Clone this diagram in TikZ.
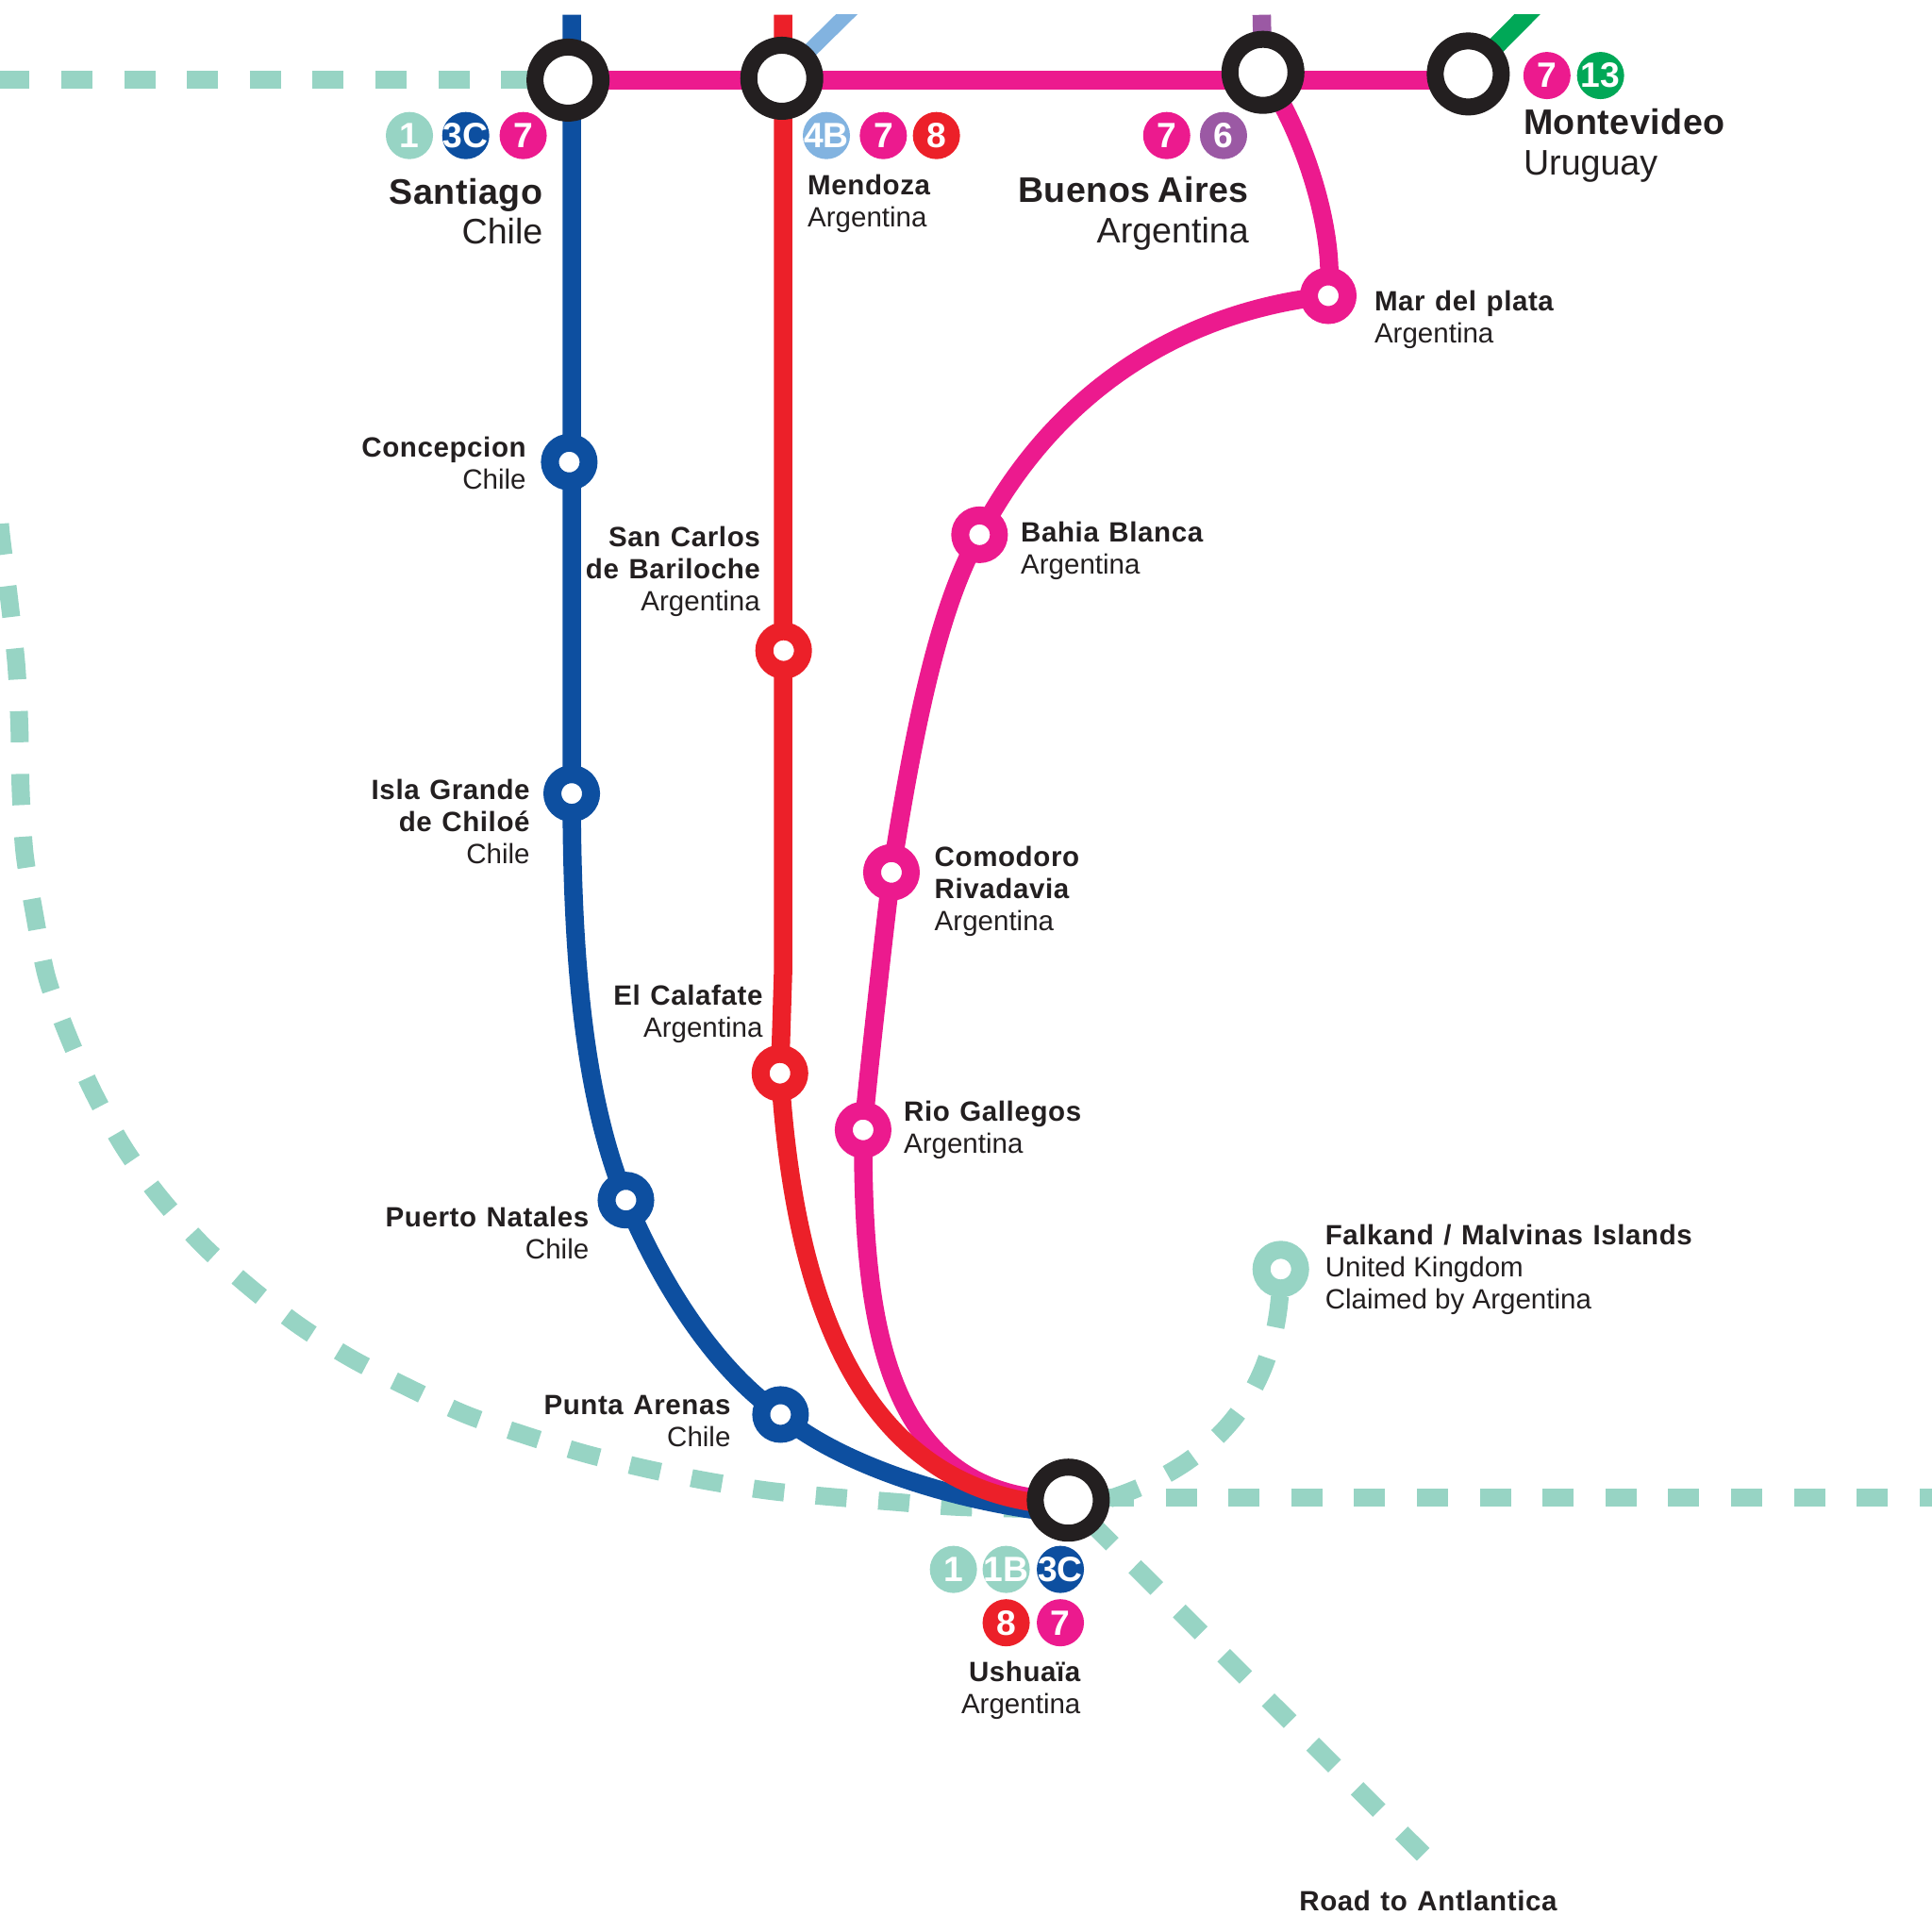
\documentclass[tikz,border=0pt]{standalone}
\usepackage{fontspec}
\usepackage{tikz}
\usetikzlibrary{backgrounds}
\setmainfont{Liberation Sans}
\newfontfamily\namefont[LetterSpace=2,WordSpace=1.2]{Liberation Sans}
\newfontfamily\bignamefont[LetterSpace=1.4,WordSpace=0.7]{Liberation Sans}

\definecolor{roadteal}{HTML}{97D4C4}
\definecolor{linepink}{HTML}{EC1A8E}
\definecolor{lineblue}{HTML}{0D4FA0}
\definecolor{linered}{HTML}{EC2029}
\definecolor{linesky}{HTML}{82B3E0}
\definecolor{linepurple}{HTML}{9B59A4}
\definecolor{linegreen}{HTML}{00A857}
\definecolor{ringblack}{HTML}{231F20}

\newcommand{\cityname}[1]{{\namefont\bfseries #1}}
\newcommand{\bigname}[1]{{\bignamefont\bfseries #1}}
\newcommand{\wide}[1]{\makebox[0pt][c]{#1}}

\tikzset{
    hub/.style={circle, draw=ringblack, fill=white, line width=0.18cm, minimum size=0.7cm, inner sep=0},
    halt/.style={circle, fill=white, line width=0.19cm, minimum size=0.41cm, inner sep=0},
    badge/.style={circle, text=white, minimum size=0.5cm, inner sep=0, font=\fontsize{10.6}{10.6}\selectfont\bfseries},
    metro/.style={line width=0.195cm},
    road/.style={line width=0.19cm, color=roadteal, dash pattern=on 0.33cm off 0.336cm},
    small/.style={inner sep=0, text=ringblack, font=\fontsize{8.4}{9.67}\selectfont},
    big/.style={inner sep=0, text=ringblack, font=\fontsize{10.7}{12.2}\selectfont},
}

\begin{document}
\begin{tikzpicture}[x=0.0130612cm, y=-0.0130612cm]
    \useasboundingbox (0,0) rectangle (1568,1568);

    % stations
    \node[hub] (santiago) at (461,65) {};
    \node[hub] (mendoza) at (634.5,63.5) {};
    \node[hub] (buenosaires) at (1025,58.7) {};
    \node[hub] (montevideo) at (1191.6,60) {};
    \node[hub] (ushuaia) at (867,1217.5) {};

    \node[halt, draw=lineblue] (concepcion) at (462,375) {};
    \node[halt, draw=lineblue] (chiloe) at (464,644) {};
    \node[halt, draw=lineblue] (natales) at (508,974) {};
    \node[halt, draw=lineblue] (arenas) at (633.5,1148) {};
    \node[halt, draw=linered] (bariloche) at (636,528) {};
    \node[halt, draw=linered] (calafate) at (633,871) {};
    \node[halt, draw=linepink] (marplata) at (1078,240) {};
    \node[halt, draw=linepink] (bahia) at (795,434) {};
    \node[halt, draw=linepink] (comodoro) at (723.5,708) {};
    \node[halt, draw=linepink] (gallegos) at (700.5,917) {};
    \node[halt, draw=roadteal] (falkland) at (1039.5,1030) {};

    % free ends
    \coordinate (bluetop) at (464,12);
    \coordinate (redtop) at (635.6,12);
    \coordinate (purpletop) at (1024,12);
    \coordinate (skytop) at (705,-6);
    \coordinate (greentop) at (1257,-6);
    \coordinate (roadwest) at (-1.2,65);
    \coordinate (roadeast) at (1568,1215.6);
    \coordinate (roadsouth) at (1155,1505);

    \begin{scope}[on background layer]
        % dashed roads
        \draw[road] (roadwest) -- (santiago.center);
        \draw[road, dash phase=0.30cm] (ushuaia.center |- roadeast) -- (roadeast);
        \draw[road, dash phase=0.336cm] (ushuaia.center) -- (roadsouth);
        \draw[road, dash phase=0.376cm] (falkland.center) .. controls (1040,1130) and (985,1200) .. ([yshift=-0.1cm]ushuaia.center);
        \draw[road] plot[smooth] coordinates {(0,425) (1.3,437.7) (7.7,488.7) (13.3,540) (15.8,590.9) (16.8,641.4) (19.9,692.2) (28,742) (38,793) (55,840) (76,887) (101,932) (130,972) (165,1011) (203,1045) (243,1076) (286,1103) (333,1127) (378,1148) (426,1164.7) (474.7,1179.7) (524.5,1192) (574,1202) (625,1210) (676.4,1215) (726.7,1219) (778,1223) ([yshift=-0.1cm]ushuaia.center)};

        % stubs cut at the top
        \begin{scope}
            \clip (0,12) rectangle (1568,1568);
            \draw[line width=0.16cm, linesky] (mendoza.center) -- (skytop);
            \draw[metro, linegreen] (montevideo.center) -- (greentop);
        \end{scope}
        \draw[metro, linepurple] (purpletop) -- (buenosaires.center);

        % lines
        \draw[metro, lineblue] (bluetop) -- (chiloe.center) .. controls (464,800) and (478,900) .. (natales.center) .. controls (540,1050) and (585,1115) .. (arenas.center) .. controls (670,1180) and (755,1217) .. ([yshift=-0.15cm]ushuaia.center);
        \draw[metro, linepink] (santiago.center) -- (santiago.center -| montevideo.center);
        \draw[metro, linepink] (buenosaires.center) .. controls (1060,110) and (1084,190) .. (marplata.center) .. controls (950,254) and (852,325) .. (bahia.center) .. controls (762,492) and (742,590) .. (comodoro.center) .. controls (716,770) and (706,860) .. (gallegos.center) .. controls (700,1080) and (720,1217) .. (ushuaia.center);
        \draw[metro, linered] (redtop) -- (635.5,790) -- (calafate.center) .. controls (645,1060) and (700,1215) .. ([yshift=-0.06cm]ushuaia.center);
    \end{scope}

    % line badges
    \node[badge, fill=roadteal] (santiagoa) at (332.3,110) {1};
    \node[badge, fill=lineblue] (santiagob) at (378,110) {\wide{3C}};
    \node[badge, fill=linepink] (santiagoc) at (424.6,110) {7};
    \node[badge, fill=linesky] (mendozaa) at (670.7,110) {\wide{4B}};
    \node[badge, fill=linepink] (mendozab) at (716.9,110) {7};
    \node[badge, fill=linered] (mendozac) at (760,110) {8};
    \node[badge, fill=linepink] (airesa) at (946.9,110) {7};
    \node[badge, fill=linepurple] (airesb) at (993,110) {6};
    \node[badge, fill=linepink] (montea) at (1255.5,61.3) {7};
    \node[badge, fill=linegreen] (monteb) at (1299,61.3) {\wide{13}};
    \node[badge, fill=roadteal] (ushuaiaa) at (773.8,1273.7) {1};
    \node[badge, fill=roadteal] (ushuaiab) at (816.6,1273.7) {\wide{1B}};
    \node[badge, fill=lineblue] (ushuaiac) at (860.6,1273.7) {\wide{3C}};
    \node[badge, fill=linered] (ushuaiad) at (816.6,1317) {8};
    \node[badge, fill=linepink] (ushuaiae) at (860.6,1317) {7};

    % labels
    \node[big, align=right, anchor=north east] (labsantiago) at (441,144) {\bigname{Santiago}\\Chile};
    \node[big, align=right, anchor=north east] (labaires) at (1014,143) {\bigname{Buenos Aires}\\Argentina};
    \node[big, align=left, anchor=north west] (labmonte) at (1236,88) {\bigname{Montevideo}\\Uruguay};
    \node[small, align=left, anchor=north west] (labmendoza) at (655,141) {\cityname{Mendoza}\\Argentina};
    \node[small, align=left, anchor=north west] (labplata) at (1115,235) {\cityname{Mar del plata}\\Argentina};
    \node[small, align=left, anchor=north west] (labbahia) at (828,423) {\cityname{Bahia Blanca}\\Argentina};
    \node[small, align=left, anchor=north west] (labcomodoro) at (758,686) {\cityname{Comodoro}\\\cityname{Rivadavia}\\Argentina};
    \node[small, align=left, anchor=north west] (labgallegos) at (733,893) {\cityname{Rio Gallegos}\\Argentina};
    \node[small, align=left, anchor=north west] (labfalkland) at (1075,993) {\cityname{Falkand / Malvinas Islands}\\United Kingdom\\Claimed by Argentina};
    \node[small, align=right, anchor=north east] (labconcepcion) at (427.5,354) {\cityname{Concepcion}\\Chile};
    \node[small, align=right, anchor=north east] (labbariloche) at (617.5,427) {\cityname{San Carlos}\\\cityname{de Bariloche}\\Argentina};
    \node[small, align=right, anchor=north east] (labchiloe) at (430.5,632) {\cityname{Isla Grande}\\\cityname{de Chiloé}\\Chile};
    \node[small, align=right, anchor=north east] (labcalafate) at (619.5,799) {\cityname{El Calafate}\\Argentina};
    \node[small, align=right, anchor=north east] (labnatales) at (478.5,979) {\cityname{Puerto Natales}\\Chile};
    \node[small, align=right, anchor=north east] (labarenas) at (593.5,1132) {\cityname{Punta Arenas}\\Chile};
    \node[small, align=right, anchor=north east] (labushuaia) at (877.5,1348) {\cityname{Ushuaïa}\\Argentina};
    \node[small, anchor=north west] (labroad) at (1054,1534) {\cityname{Road to Antlantica}};
\end{tikzpicture}
\end{document}
